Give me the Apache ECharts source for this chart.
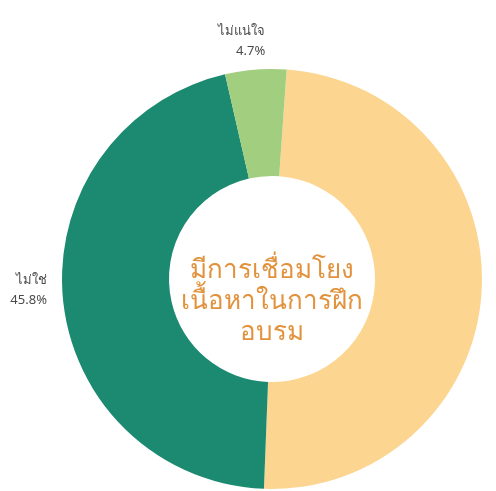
<!DOCTYPE html>
<html>
<head>
<meta charset="utf-8">
<script src="https://cdn.jsdelivr.net/npm/echarts@6/dist/echarts.min.js"></script>
<style>
  html, body { margin: 0; padding: 0; background: #ffffff; }
  #chart { width: 496px; height: 491px; }
</style>
</head>
<body>
<div id="chart"></div>
<script>
// Answer categories and their shares (%)
const categories = ['ใช่', 'ไม่ใช่', 'ไม่แน่ใจ'];
const shares = [49.5, 45.8, 4.7];
const sliceColors = ['#fcd591', '#1b8a71', '#a1ce7f'];
const showLabel = [false, true, true];
const centerTitle = 'มีการเชื่อมโยง\nเนื้อหาในการฝึก\nอบรม';

// Small nudges for the outside labels, per slice
const labelNudge = [[0, 0], [-5, -9], [15, -22]];

const chart = echarts.init(document.getElementById('chart'), null, { renderer: 'canvas' });

const data = categories.map((name, i) => ({
  name: name,
  value: shares[i],
  itemStyle: { color: sliceColors[i] },
  label: { show: showLabel[i] }
}));

chart.setOption({
  animation: false,
  title: {
    text: centerTitle,
    left: 267,
    top: 250,
    textAlign: 'center',
    textStyle: {
      color: '#e2923c',
      fontSize: 26,
      fontWeight: 'normal',
      lineHeight: 31,
      fontFamily: 'Noto Sans, DejaVu Sans, sans-serif'
    }
  },
  series: [{
    type: 'pie',
    center: [272, 279],
    radius: [103, 210],
    startAngle: 86,
    clockwise: true,
    silent: true,
    data: data,
    label: {
      position: 'outside',
      formatter: p => p.name + '\n' + p.value + '%',
      color: '#4a4a4a',
      fontSize: 13,
      lineHeight: 20,
      align: 'center',
      fontFamily: 'Noto Sans, DejaVu Sans, sans-serif'
    },
    labelLine: { show: false, length: 6, length2: 0 },
    labelLayout: p => ({ dx: labelNudge[p.dataIndex][0], dy: labelNudge[p.dataIndex][1] })
  }]
});
</script>
</body>
</html>
